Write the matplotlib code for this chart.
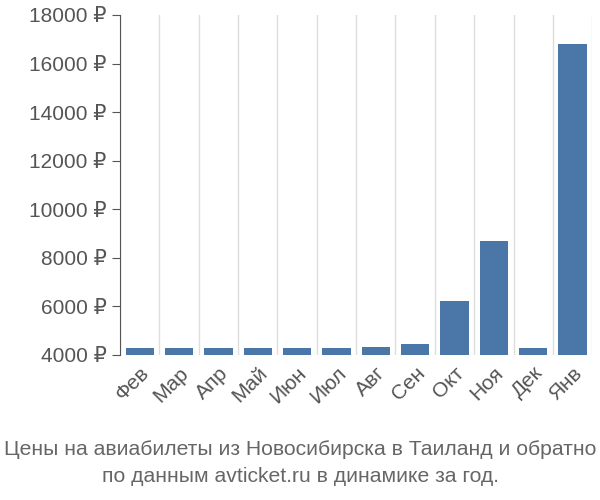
import matplotlib
matplotlib.use("Agg")
import matplotlib.pyplot as plt
import numpy as np

months = ["Фев","Мар","Апр","Май","Июн","Июл","Авг","Сен","Окт","Ноя","Дек","Янв"]
prices = [4300,4300,4300,4300,4300,4300,4330,4450,6230,8680,4300,16800]
yticks = [4000,6000,8000,10000,12000,14000,16000,18000]

plt.rcParams['font.family'] = ['Liberation Sans','DejaVu Sans']
fig = plt.figure(figsize=(6,5), dpi=100)
ax = fig.add_axes([0.2, 0.29, 0.787, 0.68])
x = np.arange(len(months))
ax.bar(x, np.array(prices)-4000, bottom=4000, width=0.72, color="#4a76a8", zorder=3)
ax.set_xlim(-0.5, len(months)-0.5)
ax.set_ylim(4000, 18000)
ax.set_yticks(yticks)
ax.set_yticklabels([f"{v} ₽" for v in yticks], fontsize=15, color="#555555")
ax.set_xticks(x)
ax.set_xticklabels(months, rotation=45, ha="right", rotation_mode="anchor", fontsize=15, color="#555555")
for b in np.arange(-0.5, len(months), 1):
    ax.axvline(b, color="#dddddd", lw=1, zorder=1)
for s in ["top","right","bottom"]:
    ax.spines[s].set_visible(False)
ax.spines["left"].set_color("#555555")
ax.tick_params(axis="x", length=0, pad=6)
ax.tick_params(axis="y", length=6, color="#555555")
fig.text(0.5, 0.09, "Цены на авиабилеты из Новосибирска в Таиланд и обратно", ha="center", fontsize=15.2, color="#666666")
fig.text(0.5, 0.035, "по данным avticket.ru в динамике за год.", ha="center", fontsize=15.2, color="#666666")
fig.savefig("out.png")
